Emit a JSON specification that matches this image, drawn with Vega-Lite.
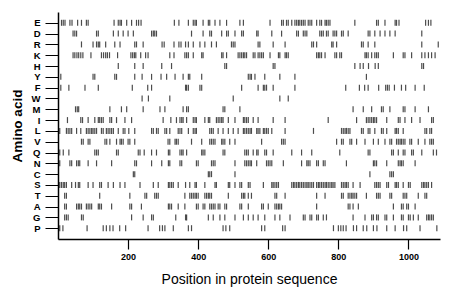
{
"$schema": "https://vega.github.io/schema/vega-lite/v6.json",
"width": 382, "height": 227,
"autosize": "none",
"padding": {"left": 58, "top": 12, "right": 20, "bottom": 60},
"config": {"view": {"stroke": null}, "font": "Liberation Sans"},
"data": {"values": [
{"a":"E","p":10},{"a":"E","p":15},{"a":"E","p":20},{"a":"E","p":34},{"a":"E","p":40},{"a":"E","p":56},{"a":"E","p":67},{"a":"E","p":81},{"a":"E","p":86},{"a":"E","p":160},{"a":"E","p":172},{"a":"E","p":177},{"a":"E","p":181},{"a":"E","p":196},{"a":"E","p":210},{"a":"E","p":224},{"a":"E","p":230},{"a":"E","p":237},{"a":"E","p":332},{"a":"E","p":345},{"a":"E","p":372},{"a":"E","p":386},{"a":"E","p":391},{"a":"E","p":395},{"a":"E","p":414},{"a":"E","p":429},{"a":"E","p":433},{"a":"E","p":448},{"a":"E","p":462},{"a":"E","p":481},{"a":"E","p":519},{"a":"E","p":529},{"a":"E","p":605},{"a":"E","p":638},{"a":"E","p":643},{"a":"E","p":652},{"a":"E","p":657},{"a":"E","p":667},{"a":"E","p":676},{"a":"E","p":681},{"a":"E","p":686},{"a":"E","p":690},{"a":"E","p":695},{"a":"E","p":700},{"a":"E","p":705},{"a":"E","p":714},{"a":"E","p":719},{"a":"E","p":724},{"a":"E","p":738},{"a":"E","p":747},{"a":"E","p":752},{"a":"E","p":762},{"a":"E","p":766},{"a":"E","p":771},{"a":"E","p":776},{"a":"E","p":847},{"a":"E","p":909},{"a":"E","p":914},{"a":"E","p":933},{"a":"E","p":962},{"a":"E","p":966},{"a":"E","p":973},{"a":"E","p":1049},{"a":"E","p":1057},{"a":"E","p":1064},
{"a":"D","p":43},{"a":"D","p":48},{"a":"D","p":53},{"a":"D","p":110},{"a":"D","p":115},{"a":"D","p":158},{"a":"D","p":172},{"a":"D","p":186},{"a":"D","p":200},{"a":"D","p":215},{"a":"D","p":267},{"a":"D","p":272},{"a":"D","p":276},{"a":"D","p":281},{"a":"D","p":381},{"a":"D","p":414},{"a":"D","p":433},{"a":"D","p":438},{"a":"D","p":467},{"a":"D","p":481},{"a":"D","p":486},{"a":"D","p":505},{"a":"D","p":524},{"a":"D","p":529},{"a":"D","p":567},{"a":"D","p":571},{"a":"D","p":610},{"a":"D","p":638},{"a":"D","p":681},{"a":"D","p":686},{"a":"D","p":700},{"a":"D","p":705},{"a":"D","p":710},{"a":"D","p":747},{"a":"D","p":752},{"a":"D","p":757},{"a":"D","p":766},{"a":"D","p":771},{"a":"D","p":785},{"a":"D","p":790},{"a":"D","p":795},{"a":"D","p":809},{"a":"D","p":814},{"a":"D","p":828},{"a":"D","p":885},{"a":"D","p":890},{"a":"D","p":904},{"a":"D","p":919},{"a":"D","p":933},{"a":"D","p":947},{"a":"D","p":962},{"a":"D","p":1038},
{"a":"R","p":67},{"a":"R","p":100},{"a":"R","p":110},{"a":"R","p":115},{"a":"R","p":119},{"a":"R","p":136},{"a":"R","p":162},{"a":"R","p":177},{"a":"R","p":219},{"a":"R","p":224},{"a":"R","p":243},{"a":"R","p":297},{"a":"R","p":303},{"a":"R","p":331},{"a":"R","p":345},{"a":"R","p":351},{"a":"R","p":364},{"a":"R","p":372},{"a":"R","p":386},{"a":"R","p":405},{"a":"R","p":419},{"a":"R","p":438},{"a":"R","p":452},{"a":"R","p":495},{"a":"R","p":500},{"a":"R","p":505},{"a":"R","p":571},{"a":"R","p":576},{"a":"R","p":614},{"a":"R","p":648},{"a":"R","p":724},{"a":"R","p":729},{"a":"R","p":738},{"a":"R","p":781},{"a":"R","p":785},{"a":"R","p":795},{"a":"R","p":866},{"a":"R","p":871},{"a":"R","p":885},{"a":"R","p":904},{"a":"R","p":1038},{"a":"R","p":1085},
{"a":"K","p":43},{"a":"K","p":48},{"a":"K","p":54},{"a":"K","p":59},{"a":"K","p":65},{"a":"K","p":71},{"a":"K","p":94},{"a":"K","p":124},{"a":"K","p":130},{"a":"K","p":136},{"a":"K","p":141},{"a":"K","p":147},{"a":"K","p":170},{"a":"K","p":208},{"a":"K","p":213},{"a":"K","p":218},{"a":"K","p":222},{"a":"K","p":236},{"a":"K","p":250},{"a":"K","p":257},{"a":"K","p":319},{"a":"K","p":331},{"a":"K","p":362},{"a":"K","p":367},{"a":"K","p":372},{"a":"K","p":386},{"a":"K","p":410},{"a":"K","p":414},{"a":"K","p":467},{"a":"K","p":471},{"a":"K","p":481},{"a":"K","p":514},{"a":"K","p":519},{"a":"K","p":524},{"a":"K","p":529},{"a":"K","p":533},{"a":"K","p":538},{"a":"K","p":557},{"a":"K","p":562},{"a":"K","p":571},{"a":"K","p":576},{"a":"K","p":581},{"a":"K","p":586},{"a":"K","p":605},{"a":"K","p":629},{"a":"K","p":633},{"a":"K","p":648},{"a":"K","p":652},{"a":"K","p":657},{"a":"K","p":738},{"a":"K","p":743},{"a":"K","p":747},{"a":"K","p":752},{"a":"K","p":762},{"a":"K","p":790},{"a":"K","p":795},{"a":"K","p":804},{"a":"K","p":809},{"a":"K","p":876},{"a":"K","p":880},{"a":"K","p":885},{"a":"K","p":895},{"a":"K","p":904},{"a":"K","p":909},{"a":"K","p":914},{"a":"K","p":957},{"a":"K","p":985},{"a":"K","p":990},{"a":"K","p":1009},{"a":"K","p":1038},{"a":"K","p":1047},{"a":"K","p":1057},{"a":"K","p":1066},{"a":"K","p":1076},
{"a":"H","p":172},{"a":"H","p":219},{"a":"H","p":243},{"a":"H","p":296},{"a":"H","p":324},{"a":"H","p":476},{"a":"H","p":481},{"a":"H","p":614},{"a":"H","p":619},{"a":"H","p":847},{"a":"H","p":862},{"a":"H","p":871},{"a":"H","p":886},{"a":"H","p":905},{"a":"H","p":914},{"a":"H","p":1038},{"a":"H","p":1043},
{"a":"Y","p":8},{"a":"Y","p":100},{"a":"Y","p":105},{"a":"Y","p":162},{"a":"Y","p":167},{"a":"Y","p":219},{"a":"Y","p":240},{"a":"Y","p":267},{"a":"Y","p":294},{"a":"Y","p":310},{"a":"Y","p":334},{"a":"Y","p":357},{"a":"Y","p":372},{"a":"Y","p":376},{"a":"Y","p":410},{"a":"Y","p":543},{"a":"Y","p":548},{"a":"Y","p":552},{"a":"Y","p":562},{"a":"Y","p":590},{"a":"Y","p":633},{"a":"Y","p":676},{"a":"Y","p":880},
{"a":"F","p":8},{"a":"F","p":31},{"a":"F","p":77},{"a":"F","p":115},{"a":"F","p":212},{"a":"F","p":256},{"a":"F","p":267},{"a":"F","p":364},{"a":"F","p":367},{"a":"F","p":372},{"a":"F","p":405},{"a":"F","p":410},{"a":"F","p":524},{"a":"F","p":571},{"a":"F","p":586},{"a":"F","p":590},{"a":"F","p":595},{"a":"F","p":614},{"a":"F","p":676},{"a":"F","p":821},{"a":"F","p":860},{"a":"F","p":875},{"a":"F","p":885},{"a":"F","p":915},{"a":"F","p":935},{"a":"F","p":940},{"a":"F","p":945},{"a":"F","p":960},{"a":"F","p":980},{"a":"F","p":992},{"a":"F","p":1019},{"a":"F","p":1045},
{"a":"W","p":240},{"a":"W","p":258},{"a":"W","p":319},{"a":"W","p":500},{"a":"W","p":633},{"a":"W","p":657},
{"a":"M","p":50},{"a":"M","p":55},{"a":"M","p":59},{"a":"M","p":148},{"a":"M","p":181},{"a":"M","p":196},{"a":"M","p":243},{"a":"M","p":291},{"a":"M","p":305},{"a":"M","p":357},{"a":"M","p":367},{"a":"M","p":372},{"a":"M","p":471},{"a":"M","p":476},{"a":"M","p":519},{"a":"M","p":842},{"a":"M","p":871},{"a":"M","p":895},{"a":"M","p":923},{"a":"M","p":928},{"a":"M","p":947},{"a":"M","p":985},{"a":"M","p":990},{"a":"M","p":1019},{"a":"M","p":1057},
{"a":"I","p":27},{"a":"I","p":65},{"a":"I","p":70},{"a":"I","p":86},{"a":"I","p":105},{"a":"I","p":115},{"a":"I","p":119},{"a":"I","p":124},{"a":"I","p":129},{"a":"I","p":148},{"a":"I","p":153},{"a":"I","p":167},{"a":"I","p":191},{"a":"I","p":210},{"a":"I","p":300},{"a":"I","p":322},{"a":"I","p":338},{"a":"I","p":348},{"a":"I","p":353},{"a":"I","p":357},{"a":"I","p":367},{"a":"I","p":386},{"a":"I","p":391},{"a":"I","p":395},{"a":"I","p":419},{"a":"I","p":429},{"a":"I","p":433},{"a":"I","p":452},{"a":"I","p":457},{"a":"I","p":462},{"a":"I","p":467},{"a":"I","p":471},{"a":"I","p":486},{"a":"I","p":505},{"a":"I","p":529},{"a":"I","p":533},{"a":"I","p":538},{"a":"I","p":543},{"a":"I","p":557},{"a":"I","p":571},{"a":"I","p":614},{"a":"I","p":648},{"a":"I","p":771},{"a":"I","p":852},{"a":"I","p":880},{"a":"I","p":885},{"a":"I","p":890},{"a":"I","p":895},{"a":"I","p":900},{"a":"I","p":904},{"a":"I","p":909},{"a":"I","p":938},{"a":"I","p":971},{"a":"I","p":976},{"a":"I","p":990},{"a":"I","p":1009},{"a":"I","p":1033},{"a":"I","p":1066},{"a":"I","p":1071},
{"a":"L","p":5},{"a":"L","p":24},{"a":"L","p":29},{"a":"L","p":34},{"a":"L","p":39},{"a":"L","p":53},{"a":"L","p":65},{"a":"L","p":81},{"a":"L","p":86},{"a":"L","p":91},{"a":"L","p":96},{"a":"L","p":100},{"a":"L","p":105},{"a":"L","p":110},{"a":"L","p":124},{"a":"L","p":129},{"a":"L","p":138},{"a":"L","p":143},{"a":"L","p":148},{"a":"L","p":153},{"a":"L","p":158},{"a":"L","p":172},{"a":"L","p":186},{"a":"L","p":191},{"a":"L","p":202},{"a":"L","p":219},{"a":"L","p":267},{"a":"L","p":272},{"a":"L","p":281},{"a":"L","p":286},{"a":"L","p":305},{"a":"L","p":310},{"a":"L","p":319},{"a":"L","p":343},{"a":"L","p":348},{"a":"L","p":353},{"a":"L","p":372},{"a":"L","p":386},{"a":"L","p":391},{"a":"L","p":395},{"a":"L","p":433},{"a":"L","p":438},{"a":"L","p":443},{"a":"L","p":457},{"a":"L","p":471},{"a":"L","p":486},{"a":"L","p":500},{"a":"L","p":514},{"a":"L","p":529},{"a":"L","p":533},{"a":"L","p":538},{"a":"L","p":543},{"a":"L","p":548},{"a":"L","p":552},{"a":"L","p":567},{"a":"L","p":571},{"a":"L","p":576},{"a":"L","p":586},{"a":"L","p":590},{"a":"L","p":595},{"a":"L","p":600},{"a":"L","p":610},{"a":"L","p":648},{"a":"L","p":729},{"a":"L","p":809},{"a":"L","p":814},{"a":"L","p":819},{"a":"L","p":823},{"a":"L","p":828},{"a":"L","p":833},{"a":"L","p":866},{"a":"L","p":871},{"a":"L","p":885},{"a":"L","p":890},{"a":"L","p":904},{"a":"L","p":923},{"a":"L","p":928},{"a":"L","p":938},{"a":"L","p":962},{"a":"L","p":966},{"a":"L","p":971},{"a":"L","p":985},{"a":"L","p":1047},{"a":"L","p":1052},{"a":"L","p":1061},{"a":"L","p":1066},
{"a":"V","p":67},{"a":"V","p":72},{"a":"V","p":86},{"a":"V","p":91},{"a":"V","p":134},{"a":"V","p":139},{"a":"V","p":148},{"a":"V","p":167},{"a":"V","p":177},{"a":"V","p":181},{"a":"V","p":186},{"a":"V","p":200},{"a":"V","p":205},{"a":"V","p":219},{"a":"V","p":314},{"a":"V","p":319},{"a":"V","p":334},{"a":"V","p":338},{"a":"V","p":343},{"a":"V","p":381},{"a":"V","p":410},{"a":"V","p":433},{"a":"V","p":438},{"a":"V","p":443},{"a":"V","p":448},{"a":"V","p":467},{"a":"V","p":471},{"a":"V","p":476},{"a":"V","p":490},{"a":"V","p":505},{"a":"V","p":581},{"a":"V","p":638},{"a":"V","p":643},{"a":"V","p":648},{"a":"V","p":795},{"a":"V","p":809},{"a":"V","p":814},{"a":"V","p":833},{"a":"V","p":838},{"a":"V","p":852},{"a":"V","p":876},{"a":"V","p":900},{"a":"V","p":914},{"a":"V","p":933},{"a":"V","p":947},{"a":"V","p":952},{"a":"V","p":966},{"a":"V","p":971},{"a":"V","p":976},{"a":"V","p":980},{"a":"V","p":985},{"a":"V","p":990},{"a":"V","p":1004},{"a":"V","p":1009},{"a":"V","p":1028},{"a":"V","p":1047},{"a":"V","p":1061},{"a":"V","p":1066},{"a":"V","p":1071},
{"a":"Q","p":5},{"a":"Q","p":15},{"a":"Q","p":31},{"a":"Q","p":105},{"a":"Q","p":110},{"a":"Q","p":115},{"a":"Q","p":167},{"a":"Q","p":172},{"a":"Q","p":229},{"a":"Q","p":234},{"a":"Q","p":246},{"a":"Q","p":267},{"a":"Q","p":281},{"a":"Q","p":315},{"a":"Q","p":319},{"a":"Q","p":348},{"a":"Q","p":353},{"a":"Q","p":357},{"a":"Q","p":367},{"a":"Q","p":410},{"a":"Q","p":414},{"a":"Q","p":419},{"a":"Q","p":471},{"a":"Q","p":476},{"a":"Q","p":533},{"a":"Q","p":538},{"a":"Q","p":543},{"a":"Q","p":557},{"a":"Q","p":567},{"a":"Q","p":571},{"a":"Q","p":590},{"a":"Q","p":595},{"a":"Q","p":614},{"a":"Q","p":667},{"a":"Q","p":695},{"a":"Q","p":724},{"a":"Q","p":804},{"a":"Q","p":885},{"a":"Q","p":890},{"a":"Q","p":952},{"a":"Q","p":957},{"a":"Q","p":971},{"a":"Q","p":985},{"a":"Q","p":990},{"a":"Q","p":1009},{"a":"Q","p":1014},{"a":"Q","p":1038},{"a":"Q","p":1071},{"a":"Q","p":1080},
{"a":"N","p":5},{"a":"N","p":34},{"a":"N","p":39},{"a":"N","p":53},{"a":"N","p":58},{"a":"N","p":62},{"a":"N","p":86},{"a":"N","p":110},{"a":"N","p":153},{"a":"N","p":219},{"a":"N","p":224},{"a":"N","p":267},{"a":"N","p":296},{"a":"N","p":315},{"a":"N","p":319},{"a":"N","p":348},{"a":"N","p":353},{"a":"N","p":395},{"a":"N","p":400},{"a":"N","p":438},{"a":"N","p":443},{"a":"N","p":448},{"a":"N","p":505},{"a":"N","p":533},{"a":"N","p":538},{"a":"N","p":543},{"a":"N","p":548},{"a":"N","p":552},{"a":"N","p":567},{"a":"N","p":595},{"a":"N","p":600},{"a":"N","p":605},{"a":"N","p":610},{"a":"N","p":643},{"a":"N","p":695},{"a":"N","p":710},{"a":"N","p":714},{"a":"N","p":719},{"a":"N","p":738},{"a":"N","p":743},{"a":"N","p":757},{"a":"N","p":762},{"a":"N","p":823},{"a":"N","p":900},{"a":"N","p":904},{"a":"N","p":909},{"a":"N","p":938},{"a":"N","p":971},{"a":"N","p":976},{"a":"N","p":980},{"a":"N","p":985},{"a":"N","p":1019},
{"a":"C","p":215},{"a":"C","p":219},{"a":"C","p":429},{"a":"C","p":433},{"a":"C","p":438},{"a":"C","p":505},{"a":"C","p":890},{"a":"C","p":947},{"a":"C","p":952},{"a":"C","p":957},
{"a":"S","p":5},{"a":"S","p":10},{"a":"S","p":15},{"a":"S","p":19},{"a":"S","p":24},{"a":"S","p":39},{"a":"S","p":50},{"a":"S","p":58},{"a":"S","p":62},{"a":"S","p":86},{"a":"S","p":100},{"a":"S","p":119},{"a":"S","p":124},{"a":"S","p":143},{"a":"S","p":158},{"a":"S","p":177},{"a":"S","p":191},{"a":"S","p":234},{"a":"S","p":272},{"a":"S","p":286},{"a":"S","p":315},{"a":"S","p":319},{"a":"S","p":324},{"a":"S","p":329},{"a":"S","p":343},{"a":"S","p":364},{"a":"S","p":376},{"a":"S","p":391},{"a":"S","p":395},{"a":"S","p":419},{"a":"S","p":448},{"a":"S","p":452},{"a":"S","p":486},{"a":"S","p":490},{"a":"S","p":505},{"a":"S","p":519},{"a":"S","p":524},{"a":"S","p":543},{"a":"S","p":548},{"a":"S","p":586},{"a":"S","p":610},{"a":"S","p":614},{"a":"S","p":619},{"a":"S","p":624},{"a":"S","p":629},{"a":"S","p":667},{"a":"S","p":672},{"a":"S","p":676},{"a":"S","p":681},{"a":"S","p":686},{"a":"S","p":690},{"a":"S","p":695},{"a":"S","p":700},{"a":"S","p":705},{"a":"S","p":710},{"a":"S","p":714},{"a":"S","p":719},{"a":"S","p":724},{"a":"S","p":729},{"a":"S","p":738},{"a":"S","p":743},{"a":"S","p":747},{"a":"S","p":752},{"a":"S","p":757},{"a":"S","p":762},{"a":"S","p":766},{"a":"S","p":771},{"a":"S","p":776},{"a":"S","p":781},{"a":"S","p":785},{"a":"S","p":790},{"a":"S","p":809},{"a":"S","p":814},{"a":"S","p":819},{"a":"S","p":823},{"a":"S","p":828},{"a":"S","p":842},{"a":"S","p":862},{"a":"S","p":904},{"a":"S","p":909},{"a":"S","p":914},{"a":"S","p":919},{"a":"S","p":938},{"a":"S","p":943},{"a":"S","p":962},{"a":"S","p":966},{"a":"S","p":971},{"a":"S","p":985},{"a":"S","p":1000},{"a":"S","p":1005},{"a":"S","p":1038},{"a":"S","p":1043},{"a":"S","p":1047},{"a":"S","p":1052},{"a":"S","p":1057},{"a":"S","p":1066},
{"a":"T","p":19},{"a":"T","p":24},{"a":"T","p":119},{"a":"T","p":205},{"a":"T","p":248},{"a":"T","p":253},{"a":"T","p":276},{"a":"T","p":281},{"a":"T","p":286},{"a":"T","p":362},{"a":"T","p":376},{"a":"T","p":381},{"a":"T","p":386},{"a":"T","p":391},{"a":"T","p":395},{"a":"T","p":400},{"a":"T","p":419},{"a":"T","p":424},{"a":"T","p":429},{"a":"T","p":433},{"a":"T","p":438},{"a":"T","p":486},{"a":"T","p":524},{"a":"T","p":529},{"a":"T","p":533},{"a":"T","p":543},{"a":"T","p":552},{"a":"T","p":619},{"a":"T","p":624},{"a":"T","p":648},{"a":"T","p":738},{"a":"T","p":762},{"a":"T","p":809},{"a":"T","p":814},{"a":"T","p":828},{"a":"T","p":833},{"a":"T","p":838},{"a":"T","p":842},{"a":"T","p":847},{"a":"T","p":852},{"a":"T","p":880},{"a":"T","p":909},{"a":"T","p":914},{"a":"T","p":919},{"a":"T","p":947},{"a":"T","p":952},{"a":"T","p":985},{"a":"T","p":990},{"a":"T","p":995},{"a":"T","p":1028},{"a":"T","p":1047},{"a":"T","p":1052},
{"a":"A","p":19},{"a":"A","p":24},{"a":"A","p":53},{"a":"A","p":58},{"a":"A","p":62},{"a":"A","p":67},{"a":"A","p":81},{"a":"A","p":86},{"a":"A","p":91},{"a":"A","p":96},{"a":"A","p":115},{"a":"A","p":119},{"a":"A","p":124},{"a":"A","p":153},{"a":"A","p":205},{"a":"A","p":210},{"a":"A","p":238},{"a":"A","p":315},{"a":"A","p":319},{"a":"A","p":324},{"a":"A","p":343},{"a":"A","p":362},{"a":"A","p":395},{"a":"A","p":400},{"a":"A","p":414},{"a":"A","p":419},{"a":"A","p":433},{"a":"A","p":438},{"a":"A","p":443},{"a":"A","p":448},{"a":"A","p":457},{"a":"A","p":462},{"a":"A","p":476},{"a":"A","p":481},{"a":"A","p":519},{"a":"A","p":524},{"a":"A","p":543},{"a":"A","p":581},{"a":"A","p":586},{"a":"A","p":600},{"a":"A","p":619},{"a":"A","p":624},{"a":"A","p":629},{"a":"A","p":633},{"a":"A","p":638},{"a":"A","p":738},{"a":"A","p":828},{"a":"A","p":833},{"a":"A","p":842},{"a":"A","p":857},{"a":"A","p":957},{"a":"A","p":980},{"a":"A","p":985},{"a":"A","p":995},{"a":"A","p":1000},{"a":"A","p":1019},
{"a":"G","p":19},{"a":"G","p":24},{"a":"G","p":29},{"a":"G","p":67},{"a":"G","p":72},{"a":"G","p":210},{"a":"G","p":243},{"a":"G","p":267},{"a":"G","p":272},{"a":"G","p":336},{"a":"G","p":364},{"a":"G","p":367},{"a":"G","p":429},{"a":"G","p":443},{"a":"G","p":462},{"a":"G","p":476},{"a":"G","p":505},{"a":"G","p":529},{"a":"G","p":543},{"a":"G","p":557},{"a":"G","p":571},{"a":"G","p":590},{"a":"G","p":619},{"a":"G","p":633},{"a":"G","p":662},{"a":"G","p":700},{"a":"G","p":705},{"a":"G","p":719},{"a":"G","p":724},{"a":"G","p":738},{"a":"G","p":743},{"a":"G","p":757},{"a":"G","p":766},{"a":"G","p":842},{"a":"G","p":876},{"a":"G","p":895},{"a":"G","p":900},{"a":"G","p":909},{"a":"G","p":914},{"a":"G","p":933},{"a":"G","p":938},{"a":"G","p":957},{"a":"G","p":980},{"a":"G","p":985},{"a":"G","p":1000},{"a":"G","p":1005},{"a":"G","p":1014},{"a":"G","p":1028},{"a":"G","p":1052},{"a":"G","p":1057},{"a":"G","p":1061},{"a":"G","p":1066},{"a":"G","p":1071},
{"a":"P","p":5},{"a":"P","p":14},{"a":"P","p":83},{"a":"P","p":129},{"a":"P","p":138},{"a":"P","p":148},{"a":"P","p":157},{"a":"P","p":176},{"a":"P","p":193},{"a":"P","p":257},{"a":"P","p":290},{"a":"P","p":298},{"a":"P","p":305},{"a":"P","p":329},{"a":"P","p":372},{"a":"P","p":381},{"a":"P","p":471},{"a":"P","p":479},{"a":"P","p":490},{"a":"P","p":581},{"a":"P","p":590},{"a":"P","p":641},{"a":"P","p":648},{"a":"P","p":786},{"a":"P","p":800},{"a":"P","p":807},{"a":"P","p":814},{"a":"P","p":822},{"a":"P","p":843},{"a":"P","p":852},{"a":"P","p":871},{"a":"P","p":881},{"a":"P","p":900},{"a":"P","p":910},{"a":"P","p":938},{"a":"P","p":962},{"a":"P","p":986},{"a":"P","p":995},{"a":"P","p":1033},{"a":"P","p":1081}
]},
"mark": {"type": "tick", "orient": "vertical", "thickness": 1.2, "size": 6, "color": "#000000"},
"encoding": {
"x": {"field": "p", "type": "quantitative", "scale": {"domain": [0, 1090], "nice": false, "zero": false},
"axis": {"values": [200, 400, 600, 800, 1000], "format": "d", "grid": false, "domainColor": "#000", "domainWidth": 1.5, "tickColor": "#000", "tickSize": 10, "tickWidth": 1.2, "labelFontSize": 9, "labelFontWeight": "bold", "labelColor": "#000", "labelPadding": 3, "title": "Position in protein sequence", "titleFontSize": 14, "titleFontWeight": "normal", "titleColor": "#000", "titlePadding": 11}},
"y": {"field": "a", "type": "nominal", "sort": ["E","D","R","K","H","Y","F","W","M","I","L","V","Q","N","C","S","T","A","G","P"], "scale": {"type": "point", "padding": 1.05},
"axis": {"grid": false, "domainColor": "#000", "domainWidth": 1.5, "tickColor": "#000", "tickSize": 13, "tickWidth": 1, "labelFontSize": 9.5, "labelFontWeight": "bold", "labelColor": "#000", "labelPadding": 5, "title": "Amino acid", "titleFontSize": 13.5, "titleFontWeight": "bold", "titleColor": "#000", "titlePadding": 7}}
}
}
